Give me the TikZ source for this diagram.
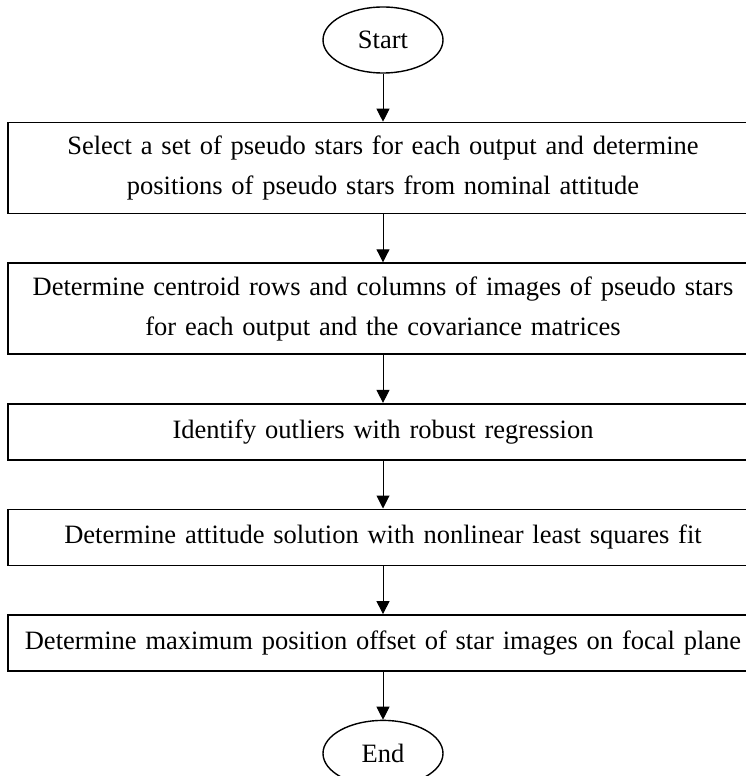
\documentclass[tikz,border=0pt]{standalone}
\usepackage{fontspec}
\setmainfont{Liberation Serif}[WordSpace=0.8]
\usetikzlibrary{positioning,shapes.geometric,arrows.meta}

\begin{document}
\begin{tikzpicture}[x=1pt,y=1pt,
    every node/.style={font=\fontsize{26.5}{40}\selectfont},
    terminal/.style={draw, line width=1.4pt, ellipse, minimum width=120pt,
      minimum height=66pt, inner sep=0pt},
    stepbox/.style={draw, line width=1.6pt, rectangle, minimum width=750pt,
      text width=746pt, align=center, inner sep=0pt},
    flow/.style={-{Triangle[length=13pt,width=13pt]}, line width=1pt}]
    \useasboundingbox (0,0) rectangle (746,-776);

    \node[terminal] (start) at (383,-40) {Start};
    \node[stepbox, minimum height=91pt, below=48pt of start] (select)
      {Select a set of pseudo stars for each output and determine\\
       positions of pseudo stars from nominal attitude};
    \node[stepbox, minimum height=91pt, below=48pt of select] (centroid)
      {Determine centroid rows and columns of images of pseudo stars\\
       for each output and the covariance matrices};
    \node[stepbox, minimum height=56pt, below=48pt of centroid] (outlier)
      {Identify outliers with robust regression};
    \node[stepbox, minimum height=56pt, below=48pt of outlier] (attitude)
      {Determine attitude solution with nonlinear least squares fit};
    \node[stepbox, minimum height=56pt, below=48pt of attitude] (offset)
      {Determine maximum position offset of star images on focal plane};
    \node[terminal, below=48pt of offset] (end) {End};

    \foreach \a/\b in {start/select, select/centroid, centroid/outlier,
      outlier/attitude, attitude/offset, offset/end}{
      \draw[flow] (\a) -- (\b);
    }

\end{tikzpicture}
\end{document}
